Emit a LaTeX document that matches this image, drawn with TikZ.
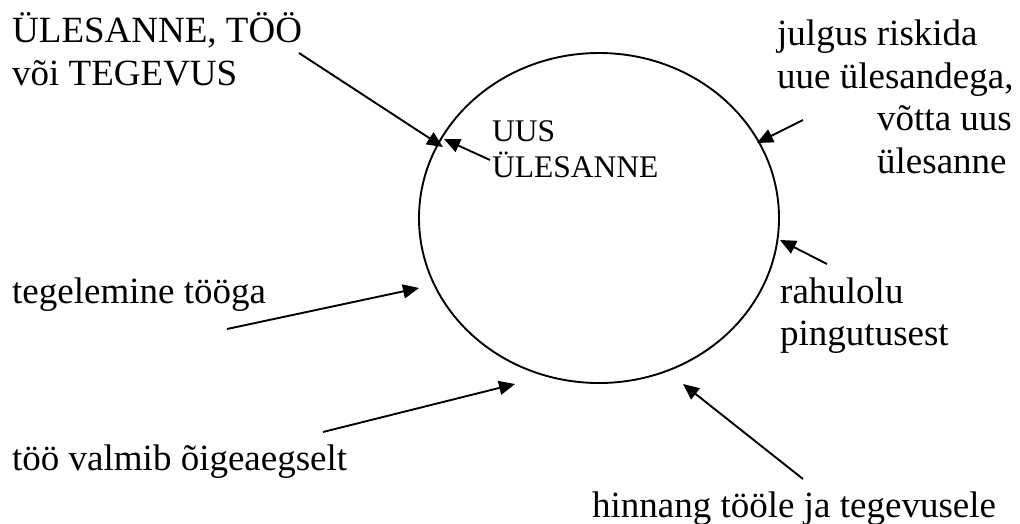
\documentclass[tikz,border=0pt]{standalone}
\usepackage{fontspec}
\setmainfont{Liberation Serif}
\usetikzlibrary{arrows.meta,shapes.geometric}
\begin{document}
\begin{tikzpicture}[x=1pt,y=-1pt,
  lbl/.style={anchor=base west,inner sep=0pt,font=\fontsize{37}{43}\selectfont},
  small/.style={anchor=base west,inner sep=0pt,font=\fontsize{31.5}{36}\selectfont},
  arr/.style={line width=1.9pt,-{Triangle[length=16pt,width=14pt]}}]
\useasboundingbox (0,0) rectangle (1020,523);
\node[ellipse,draw,line width=1.9pt,minimum width=360pt,minimum height=330pt,inner sep=0pt] (e) at (599,218) {};
% labels
\node[lbl] (t1a) at (12,42) {ÜLESANNE, TÖÖ};
\node[lbl] (t1b) at (12,85) {või TEGEVUS};
\node[small] (u1) at (492,141) {UUS};
\node[small] (u2) at (492,177) {ÜLESANNE};
\node[lbl] (j1) at (777,45) {julgus riskida};
\node[lbl] (j2) at (777,88) {uue ülesandega,};
\node[lbl] (j3) at (877,130) {võtta uus};
\node[lbl] (j4) at (877,173) {ülesanne};
\node[lbl] (tg) at (12,303) {tegelemine tööga};
\node[lbl] (r1) at (780,303) {rahulolu};
\node[lbl] (r2) at (780,345) {pingutusest};
\node[lbl] (tv) at (12,470) {töö valmib õigeaegselt};
\node[lbl] (hn) at (592,517) {hinnang tööle ja tegevusele};
% connector ends
\coordinate (s1) at (299,53);  \coordinate (e1) at (443,147);
\coordinate (s2) at (490,160); \coordinate (e2) at (444,139);
\coordinate (s3) at (803,120); \coordinate (e3) at (757,143);
\coordinate (s4) at (827,264); \coordinate (e4) at (780,240);
\coordinate (s5) at (227,329); \coordinate (e5) at (419,288);
\coordinate (s6) at (323,432); \coordinate (e6) at (515,384);
\coordinate (s7) at (803,479); \coordinate (e7) at (683,384);
\draw[arr] (s1) -- (e1);
\draw[arr] (s2) -- (e2);
\draw[arr] (s3) -- (e3);
\draw[arr] (s4) -- (e4);
\draw[arr] (s5) -- (e5);
\draw[arr] (s6) -- (e6);
\draw[arr] (s7) -- (e7);
\end{tikzpicture}
\end{document}
